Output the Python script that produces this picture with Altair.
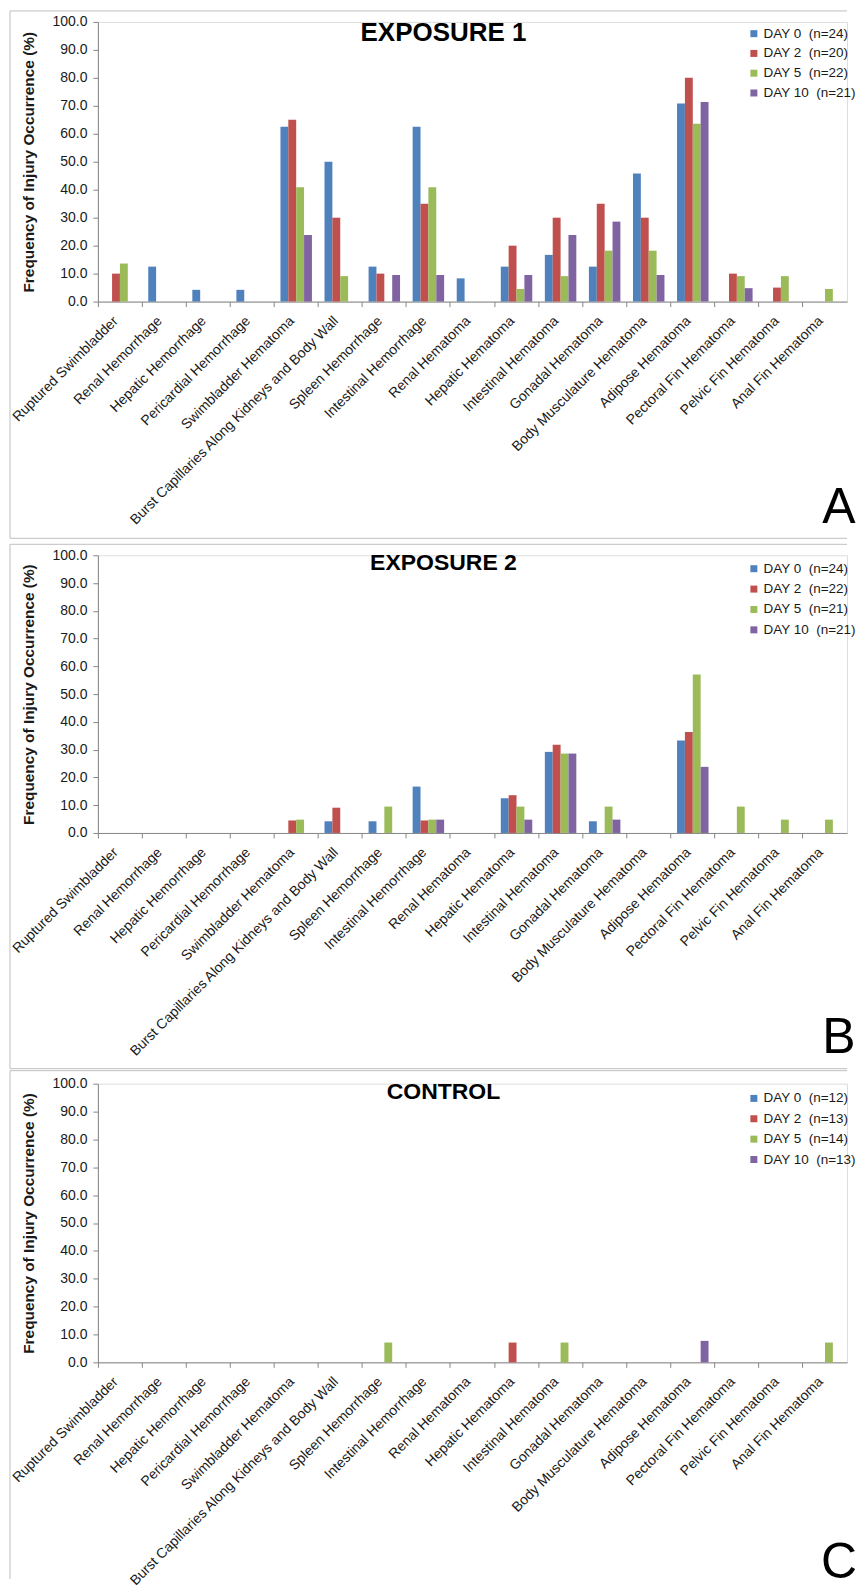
import altair as alt
import pandas as pd

categories = [
    "Ruptured Swimbladder", "Renal Hemorrhage", "Hepatic Hemorrhage",
    "Pericardial Hemorrhage", "Swimbladder Hematoma",
    "Burst Capillaries Along Kidneys and Body Wall", "Spleen Hemorrhage",
    "Intestinal Hemorrhage", "Renal Hematoma", "Hepatic Hematoma",
    "Intestinal Hematoma", "Gonadal Hematoma", "Body Musculature Hematoma",
    "Adipose Hematoma", "Pectoral Fin Hematoma", "Pelvic Fin Hematoma",
    "Anal Fin Hematoma",
]
days = ["DAY 0", "DAY 2", "DAY 5", "DAY 10"]
colors = ["#4F81BD", "#C0504D", "#9BBB59", "#8064A2"]

# Exposure 1
exp1_n = [24, 20, 22, 21]
exp1_day0 = [0, 12.5, 4.2, 4.2, 62.5, 50.0, 12.5, 62.5, 8.3, 12.5, 16.7, 12.5, 45.8, 70.8, 0, 0, 0]
exp1_day2 = [10.0, 0, 0, 0, 65.0, 30.0, 10.0, 35.0, 0, 20.0, 30.0, 35.0, 30.0, 80.0, 10.0, 5.0, 0]
exp1_day5 = [13.6, 0, 0, 0, 40.9, 9.1, 0, 40.9, 0, 4.5, 9.1, 18.2, 18.2, 63.6, 9.1, 9.1, 4.5]
exp1_day10 = [0, 0, 0, 0, 23.8, 0, 9.5, 9.5, 0, 9.5, 23.8, 28.6, 9.5, 71.4, 4.8, 0, 0]

# Exposure 2
exp2_n = [24, 22, 21, 21]
exp2_day0 = [0, 0, 0, 0, 0, 4.2, 4.2, 16.7, 0, 12.5, 29.2, 4.2, 0, 33.3, 0, 0, 0]
exp2_day2 = [0, 0, 0, 0, 4.5, 9.1, 0, 4.5, 0, 13.6, 31.8, 0, 0, 36.4, 0, 0, 0]
exp2_day5 = [0, 0, 0, 0, 4.8, 0, 9.5, 4.8, 0, 9.5, 28.6, 9.5, 0, 57.1, 9.5, 4.8, 4.8]
exp2_day10 = [0, 0, 0, 0, 0, 0, 0, 4.8, 0, 4.8, 28.6, 4.8, 0, 23.8, 0, 0, 0]

# Control
ctrl_n = [12, 13, 14, 13]
ctrl_day0 = [0] * 17
ctrl_day2 = [0, 0, 0, 0, 0, 0, 0, 0, 0, 7.1, 0, 0, 0, 0, 0, 0, 0]
ctrl_day5 = [0, 0, 0, 0, 0, 0, 7.1, 0, 0, 0, 7.1, 0, 0, 0, 0, 0, 7.1]
ctrl_day10 = [0, 0, 0, 0, 0, 0, 0, 0, 0, 0, 0, 0, 0, 7.7, 0, 0, 0]

y_ticks = [0, 10, 20, 30, 40, 50, 60, 70, 80, 90, 100]

FONT = "Liberation Sans"
TXT = "#1a1a1a"
AX = "#868686"
FRAME = "#BFBFBF"
W = 750


def make_df(n_list, series):
    labels = [f"{d}\u00a0 (n={n})" for d, n in zip(days, n_list)]
    rows = []
    for lab, d, vals in zip(labels, days, series):
        for c, v in zip(categories, vals):
            rows.append({"category": c, "day": d, "label": lab, "value": v})
    return pd.DataFrame(rows), labels


def rule(**enc):
    return alt.Chart(pd.DataFrame({"f": [0]})).mark_rule(
        color=FRAME, strokeWidth=1).encode(**enc)


def panel(n_list, series, title, title_size, title_y, letter, letter_y, H,
          legend_y, row_pad, f_top, f_bottom, draw_bottom, ext_bottom=None):
    df, labels = make_df(n_list, series)
    bars = alt.Chart(df).mark_bar().encode(
        x=alt.X("category:N", sort=categories,
                scale=alt.Scale(paddingInner=0, paddingOuter=0),
                axis=alt.Axis(title=None, labelAngle=-45, bandPosition=0,
                              labelOffset=-9, labelFont=FONT,
                              labelFontSize=14, labelColor=TXT,
                              labelPadding=7, tickSize=5, tickColor=AX,
                              domainColor=AX, grid=False, labelOverlap=False,
                              labelLimit=500)),
        xOffset=alt.XOffset("day:N", sort=days,
                            scale=alt.Scale(paddingInner=0, paddingOuter=0.8)),
        y=alt.Y("value:Q", scale=alt.Scale(domain=[0, 100], nice=False),
                axis=alt.Axis(title="Frequency of Injury Occurrence (%)",
                              values=y_ticks, format=".1f", labelFont=FONT,
                              labelFontSize=14, labelColor=TXT, tickSize=5,
                              tickColor=AX, domainColor=AX, grid=False,
                              labelPadding=6, titleFont=FONT,
                              titleFontSize=15.4, titleFontWeight="bold",
                              titleColor=TXT, titlePadding=15)),
        color=alt.Color("label:N", sort=labels,
                        scale=alt.Scale(domain=labels, range=colors),
                        legend=alt.Legend(orient="none", legendX=650,
                                          legendY=legend_y, title=None,
                                          symbolType="square", symbolSize=49,
                                          symbolStrokeWidth=0,
                                          labelFont=FONT, labelFontSize=13.5,
                                          labelColor=TXT, labelOffset=3,
                                          rowPadding=row_pad, padding=0,
                                          labelLimit=300)),
    )
    ttl = alt.Chart(pd.DataFrame({"t": [title]})).mark_text(
        font=FONT, fontSize=title_size, fontWeight="bold", align="center",
        baseline="alphabetic", color="black",
    ).encode(text="t:N", x=alt.value(346), y=alt.value(title_y))
    let = alt.Chart(pd.DataFrame({"t": [letter]})).mark_text(
        font=FONT, fontSize=50, align="center", baseline="alphabetic",
        color="black",
    ).encode(text="t:N", x=alt.value(742), y=alt.value(letter_y))
    layers = [
        rule(x=alt.value(-88), x2=alt.value(W), y=alt.value(f_top)),
        rule(x=alt.value(-88), y=alt.value(f_top), y2=alt.value(f_bottom)),
    ]
    if draw_bottom:
        layers.append(rule(x=alt.value(-88), x2=alt.value(W), y=alt.value(f_bottom)))
    layers += [bars, ttl, let]
    if ext_bottom is not None:
        ext = alt.Chart(pd.DataFrame({"f": [0]})).mark_rule(opacity=0).encode(
            x=alt.value(0), y=alt.value(H + 200), y2=alt.value(ext_bottom))
        layers.append(ext)
    return alt.layer(*layers).properties(width=W, height=H)


pA = panel(exp1_n, [exp1_day0, exp1_day2, exp1_day5, exp1_day10],
           "EXPOSURE 1", 26, 19, "A", 502, 280, 5, 4.8, -11, 517, True, 521.5)
pB = panel(exp2_n, [exp2_day0, exp2_day2, exp2_day5, exp2_day10],
           "EXPOSURE 2", 23, 15, "B", 498, 278, 6.7, 5.4, -11, 514, True)
pC = panel(ctrl_n, [ctrl_day0, ctrl_day2, ctrl_day5, ctrl_day10],
           "CONTROL", 23, 15.7, "C", 495, 279, 8, 5.4, -13, 496, False)

chart = alt.vconcat(pA, pB, pC, spacing=0).resolve_scale(
    color="independent", x="independent", y="independent"
).resolve_legend(color="independent").properties(
    padding={"left": 1, "top": 1, "right": 0, "bottom": 0}
).configure_view(stroke=None).configure(background="white")

chart.save("out.html", embed_options={"renderer": "svg", "actions": False})
